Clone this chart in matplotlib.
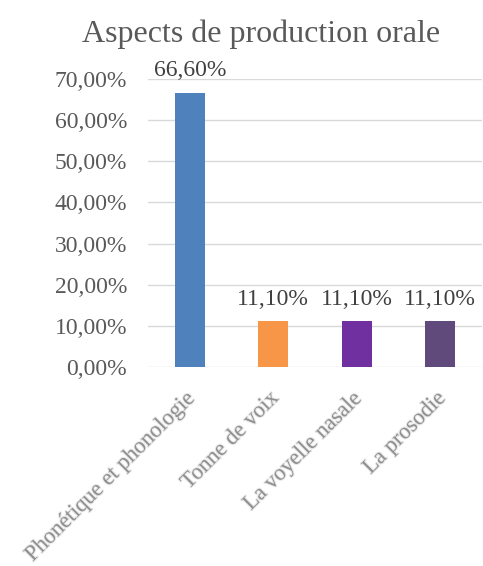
import matplotlib
matplotlib.use("Agg")
import matplotlib.pyplot as plt
import matplotlib.patheffects as pe
import matplotlib.transforms as mtransforms
from matplotlib.ticker import FuncFormatter

categories = ["Phonétique et phonologie", "Tonne de voix", "La voyelle nasale", "La prosodie"]
values = [0.666, 0.111, 0.111, 0.111]
bar_colors = ["#4F81BD", "#F79646", "#7030A0", "#604A7B"]
title = "Aspects de production orale"

plt.rcParams["font.family"] = ["Liberation Serif", "DejaVu Serif"]

fig = plt.figure(figsize=(4.83, 5.66), dpi=100, facecolor="white")
ax = fig.add_axes([0.3064, 0.3516, 0.6916, 0.5088])

x = range(len(categories))
bars = ax.bar(x, values, width=0.36, color=bar_colors, zorder=3)
for b, v in zip(bars, values):
    ax.annotate(f"{v*100:.2f}%".replace(".", ","),
                (b.get_x() + b.get_width() / 2, v), xytext=(0, 12),
                textcoords="offset points", ha="center", va="baseline",
                fontsize=17, color="#404040")

ax.set_xlim(-0.5, len(categories) - 0.5)
ax.set_ylim(0, 0.70)
ax.set_yticks([i / 10 for i in range(8)])
ax.yaxis.set_major_formatter(FuncFormatter(lambda v, p: f"{v*100:.2f}%".replace(".", ",")))
ax.tick_params(axis="y", length=0, labelsize=17, labelcolor="#595959", pad=15)
ax.tick_params(axis="x", length=0, pad=16)
ax.grid(axis="y", color="#D9D9D9", linewidth=1.0, zorder=0)
for s in ax.spines.values():
    s.set_visible(False)

ax.set_xticks(list(x))
ax.set_xticklabels(categories, rotation=45, ha="right", rotation_mode="anchor",
                   fontsize=16.2, color="#909090")
shift = mtransforms.ScaledTranslation(-0.04, 0, fig.dpi_scale_trans)
for lbl in ax.get_xticklabels():
    lbl.set_transform(lbl.get_transform() + shift)
    lbl.set_path_effects([pe.withStroke(linewidth=1.5, foreground="#E8E8E8")])

fig.text(0.540, 0.940, title, ha="center", va="center", fontsize=23, color="#595959")

fig.savefig("out.png", dpi=100, facecolor="white")
